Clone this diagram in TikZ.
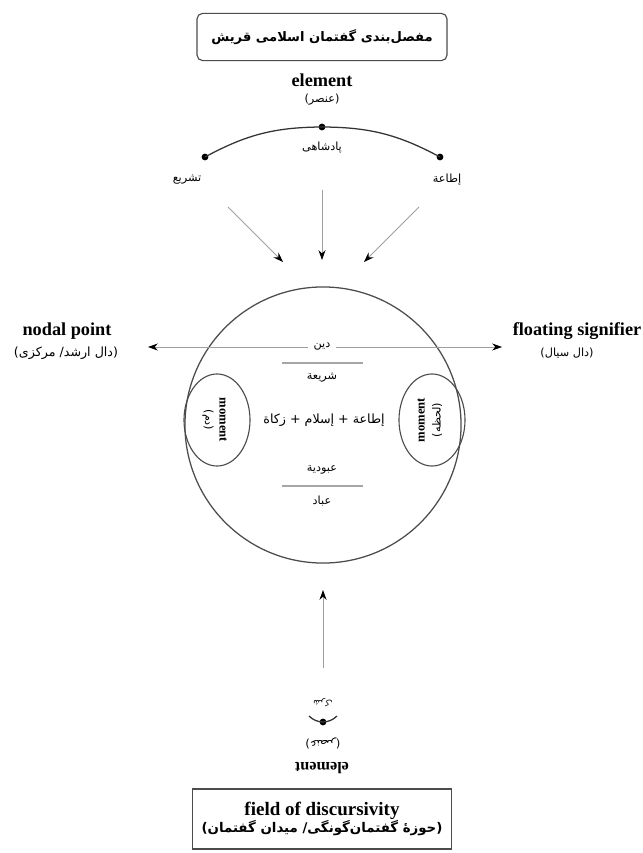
\documentclass[tikz,border=0pt]{standalone}
\usepackage{fontspec}
\setmainfont{Liberation Serif}
\newfontfamily\arabicfont[Script=Arabic]{DejaVu Sans}
\TeXXeTstate=1
\usetikzlibrary{arrows.meta,shapes.geometric}

\begin{document}
\begin{tikzpicture}[
    x=0.025cm, y=-0.025cm,
    titlebox/.style={draw=black!70, thick, rounded corners=4pt, fill=white, align=center, minimum width=6.25cm, minimum height=1.18cm},
    fieldbox/.style={draw=black!70, thick, fill=white, align=center, minimum width=6.48cm, minimum height=1.5cm, inner sep=1pt},
    termtext/.style={font=\bfseries\fontsize{13}{15}\selectfont, inner sep=1pt},
    glosstext/.style={font=\arabicfont\fontsize{8}{10}\selectfont, inner sep=1pt},
    dotpt/.style={circle, fill=black, inner sep=0pt, minimum size=0.17cm},
    flow/.style={draw=gray!75, line width=0.6pt, -{Stealth[length=7pt, width=5pt, color=black]}},
    bar/.style={draw=gray!70, line width=0.8pt},
    momentbox/.style={ellipse, draw=gray!60!black, line width=0.8pt, minimum width=1.65cm, minimum height=2.3cm},
    momenttext/.style={font=\bfseries\fontsize{9}{10}\selectfont, inner sep=1pt}
  ]
    \useasboundingbox (0,0) rectangle (643,853);

    % title and upper element
    \node[titlebox] (title) at (322,37) {\arabicfont\bfseries\fontsize{9.3}{11}\selectfont\beginR مفصل‌بندی گفتمان اسلامی قریش\endR};
    \node[termtext] (elem) at (322,80) {element};
    \node[glosstext] (elemfa) at (322,100) {\beginR (عنصر)\endR};

    \node[dotpt] (lftpt) at (205,157) {};
    \node[dotpt] (midpt) at (322,127) {};
    \node[dotpt] (rgtpt) at (440,157) {};
    \draw[line width=0.9pt, black!80] (lftpt.center) to[bend left=14] (midpt.center) to[bend left=14] (rgtpt.center);
    \node[glosstext] (shah) at (322,148) {\beginR پادشاهی\endR};
    \node[glosstext] (tashri) at (187,180) {\beginR تشریع\endR};
    \node[glosstext] (itaa) at (447,180) {\beginR إطاعة\endR};

    \coordinate (lftfrom) at (228,207);
    \coordinate (lftto) at (283,262);
    \coordinate (midfrom) at (322,190);
    \coordinate (midto) at (322,260);
    \coordinate (rgtfrom) at (419,207);
    \coordinate (rgtto) at (364,262);
    \draw[flow] (lftfrom) -- (lftto);
    \draw[flow] (midfrom) -- (midto);
    \draw[flow] (rgtfrom) -- (rgtto);

    % the discourse
    \node[circle, draw=gray!60!black, line width=0.9pt, minimum size=6.9cm, inner sep=0pt] (disc) at (323,425) {};
    \node[momentbox] (lmom) at (217,420) {};
    \node[momentbox] (rmom) at (432,420) {};
    \node[momenttext, rotate=-90] (lmomen) at (223,420) {moment};
    \node[glosstext, rotate=-90] (lmomfa) at (208,420) {\beginR (دم)\endR};
    \node[momenttext, rotate=90] (rmomen) at (421,420) {moment};
    \node[glosstext, rotate=90] (rmomfa) at (437,420) {\beginR (لحظه)\endR};

    \node[termtext] (nodal) at (67,331) {nodal point};
    \node[glosstext, font=\arabicfont\fontsize{9}{11}\selectfont] (nodalfa) at (66,353) {\beginR (دال ارشد/ مرکزی)\endR};
    \node[termtext] (float) at (577,331) {floating signifier};
    \node[glosstext] (floatfa) at (567,353) {\beginR (دال سیال)\endR};

    \node[glosstext, inner sep=4pt] (din) at (322,347) {\beginR دین\endR};
    \coordinate (nodaltip) at (148,347);
    \coordinate (floattip) at (502,347);
    \draw[flow] (din) -- (nodaltip);
    \draw[flow] (din) -- (floattip);

    \draw[bar] (282,363) -- (363,363);
    \node[glosstext] (sharia) at (322,378) {\beginR شریعة\endR};
    \node[glosstext, font=\arabicfont\fontsize{9}{11}\selectfont] (pillars) at (324,420) {\beginR إطاعة + إسلام + زكاة\endR};
    \node[glosstext] (ubud) at (322,470) {\beginR عبودیة\endR};
    \draw[bar] (282,486) -- (363,486);
    \node[glosstext] (ibad) at (322,501) {\beginR عباد\endR};

    % lower element, outside
    \coordinate (upfrom) at (323,668);
    \coordinate (upto) at (323,590);
    \draw[flow] (upfrom) -- (upto);

    \node[glosstext, font=\arabicfont\fontsize{6}{7}\selectfont, rotate=180] (shirk) at (323,703) {\beginR شرک\endR};
    \node[dotpt] (botpt) at (323,722) {};
    \coordinate (botl) at (309,716);
    \coordinate (botr) at (337,716);
    \draw[line width=0.9pt, black!80] (botl) to[bend right=20] (botpt.center) to[bend right=20] (botr);
    \node[glosstext, rotate=180] (botfa) at (323,743) {\beginR (عنصر)\endR};
    \node[termtext, font=\bfseries\fontsize{11.5}{13}\selectfont, rotate=180] (botel) at (322,768) {element};

    \node[fieldbox] (field) at (322,819) {{\bfseries\fontsize{13.5}{16}\selectfont field of discursivity}\\[0pt]
      {\arabicfont\bfseries\fontsize{9.5}{11}\selectfont\beginR (حوزهٔ گفتمان‌گونگی/ میدان گفتمان)\endR}};
  \end{tikzpicture}
\end{document}
